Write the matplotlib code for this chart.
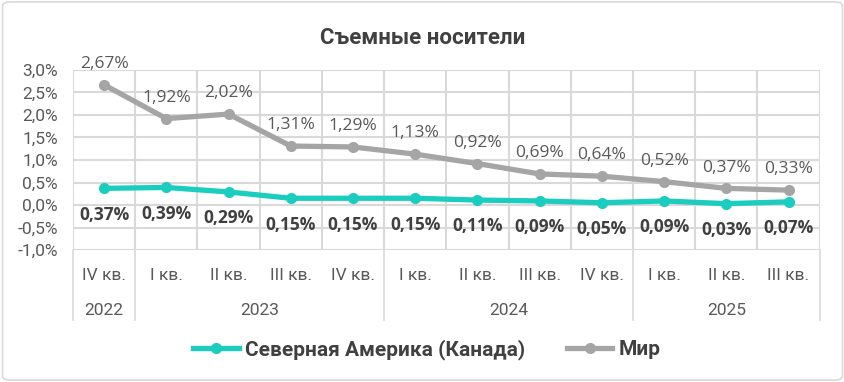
import matplotlib.pyplot as plt
from matplotlib.patches import FancyBboxPatch
import matplotlib.transforms as mtransforms
import numpy as np

plt.rcParams['font.family'] = ['Roboto', 'DejaVu Sans']

# Data
quarters = ['IV кв.', 'I кв.', 'II кв.', 'III кв.', 'IV кв.', 'I кв.', 'II кв.', 'III кв.',
            'IV кв.', 'I кв.', 'II кв.', 'III кв.']
years = ['2022', '2023', '2024', '2025']
year_counts = [1, 4, 4, 3]
canada = [0.37, 0.39, 0.29, 0.15, 0.15, 0.15, 0.11, 0.09, 0.05, 0.09, 0.03, 0.07]
world = [2.67, 1.92, 2.02, 1.31, 1.29, 1.13, 0.92, 0.69, 0.64, 0.52, 0.37, 0.33]

teal = '#1ACDBE'
grey = '#A5A5A5'
text_c = '#595959'
grid_c = '#D9D9D9'

fig = plt.figure(figsize=(8.45, 3.82), dpi=100)
border = FancyBboxPatch((0.003, 0.005), 0.994, 0.99, boxstyle='round,pad=0,rounding_size=0.01',
                        transform=fig.transFigure, fc='white', ec='#D9D9D9', lw=1.2, zorder=-10)
fig.patches.append(border)
ax = fig.add_axes([0.0864, 0.3455, 0.8836, 0.4713])
ax.patch.set_alpha(0)

x = np.arange(len(quarters))
ax.plot(x, canada, color=teal, lw=3.8, marker='o', ms=7, label='Северная Америка (Канада)', zorder=3)
ax.plot(x, world, color=grey, lw=3.8, marker='o', ms=7, label='Мир', zorder=3)

for xi, v in zip(x, world):
    ax.annotate(f'{v:.2f}%'.replace('.', ','), (xi, v), xytext=(0, 15), textcoords='offset points',
                ha='center', va='center', fontsize=12.5, color=text_c, family=['Open Sans', 'DejaVu Sans'])
for xi, v in zip(x, canada):
    ax.annotate(f'{v:.2f}%'.replace('.', ','), (xi, v), xytext=(0, -19), textcoords='offset points',
                ha='center', va='center', fontsize=12.5, color='#404040', fontweight='bold',
                family=['Open Sans', 'DejaVu Sans'])

ax.set_xlim(-0.5, len(quarters) - 0.5)
ax.set_ylim(-1.0, 3.0)
yt = np.arange(-1.0, 3.01, 0.5)
ax.set_yticks(yt)
ax.set_yticklabels([f'{t:.1f}%'.replace('.', ',') for t in yt], fontsize=12.5, color=text_c)
ax.set_xticks(x)
ax.set_xticklabels(quarters, fontsize=12.5, color=text_c)
ax.set_xticks(np.arange(-0.5, len(quarters), 1), minor=True)
ax.tick_params(axis='y', length=0, pad=11)
ax.tick_params(axis='x', length=0, pad=13)
ax.tick_params(axis='x', which='minor', length=0)
ax.grid(True, axis='y', color=grid_c, lw=1.5)
ax.grid(True, axis='x', which='minor', color=grid_c, lw=1.5)
ax.set_axisbelow(True)
for s in ax.spines.values():
    s.set_visible(False)

# year group labels and separators below the axis
trans = mtransforms.blended_transform_factory(ax.transData, ax.transAxes)
edges = np.concatenate([[0], np.cumsum(year_counts)]) - 0.5
for e in edges:
    ax.plot([e, e], [0, -0.39], transform=trans, color=grid_c, lw=1.2, clip_on=False)
for i, yr in enumerate(years):
    ax.text((edges[i] + edges[i + 1]) / 2, -0.335, yr, transform=trans, ha='center', va='center',
            fontsize=12.5, color=text_c)

fig.text(0.5, 0.90, 'Съемные носители', ha='center', va='center', fontsize=16,
         fontweight='bold', color='#404040')
fig.legend(loc='center', bbox_to_anchor=(0.505, 0.085), ncol=2, frameon=False,
           handlelength=2.2, handletextpad=0.3, columnspacing=2.0, prop={'weight': 'bold', 'size': 15})
for t in fig.legends[0].get_texts():
    t.set_color('#404040')

plt.savefig('out.png', dpi=100)
